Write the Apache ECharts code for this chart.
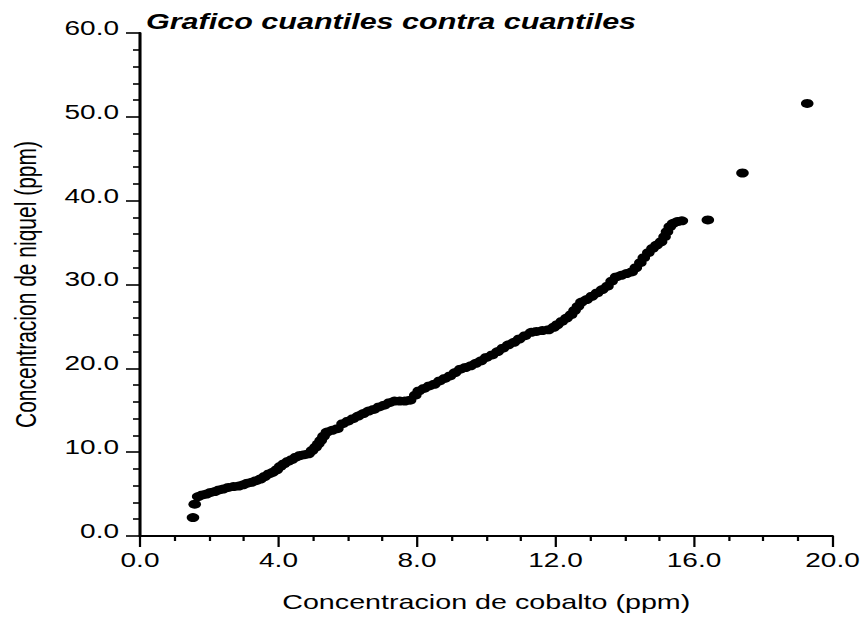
<!DOCTYPE html>
<html>
<head>
<meta charset="utf-8">
<script src="https://cdn.jsdelivr.net/npm/echarts@6/dist/echarts.min.js"></script>
<style>
  html, body { margin: 0; padding: 0; background: #fff; overflow: hidden; }
  #wrap { position: absolute; left: 0; top: 0; height: 617px; transform-origin: 0 0; }
</style>
</head>
<body>
<div id="wrap"></div>
<script>
// Sorted quantiles of cobalt (x) and nickel (y), in ppm
const cobalto = [
  1.53, 1.58, 1.68, 1.80, 1.92, 2.04, 2.16, 2.28, 2.40, 2.55,
  2.70, 2.85, 2.98, 3.10, 3.22, 3.35, 3.48, 3.60, 3.72, 3.83,
  3.95, 4.05, 4.15, 4.27, 4.38, 4.50, 4.62, 4.75, 4.87, 4.97,
  5.07, 5.15, 5.22, 5.30, 5.40, 5.55, 5.70, 5.85, 6.00, 6.15,
  6.30, 6.45, 6.60, 6.75, 6.90, 7.05, 7.20, 7.35, 7.50, 7.65,
  7.80, 7.95, 8.05, 8.20, 8.35, 8.50, 8.65, 8.80, 8.95, 9.10,
  9.25, 9.40, 9.55, 9.70, 9.85, 10.00, 10.17, 10.33, 10.48, 10.64,
  10.80, 10.95, 11.12, 11.30, 11.45, 11.62, 11.80, 11.95, 12.05, 12.18,
  12.32, 12.45, 12.55, 12.65, 12.75, 12.90, 13.05, 13.20, 13.35, 13.50,
  13.62, 13.75, 13.90, 14.05, 14.20, 14.32, 14.45, 14.55, 14.68, 14.80,
  14.92, 15.05, 15.15, 15.22, 15.30, 15.40, 15.52, 15.65, 16.40, 17.40,
  19.27
];
const niquel = [
  2.2, 3.8, 4.7, 4.9, 5.0, 5.2, 5.3, 5.5, 5.6, 5.8,
  5.9, 5.95, 6.1, 6.3, 6.4, 6.6, 6.8, 7.1, 7.4, 7.6,
  7.9, 8.3, 8.6, 8.9, 9.1, 9.4, 9.6, 9.7, 9.8, 10.2,
  10.6, 11.0, 11.4, 11.9, 12.4, 12.6, 12.8, 13.4, 13.7, 14.0,
  14.3, 14.6, 14.9, 15.1, 15.4, 15.6, 15.9, 16.1, 16.1, 16.1,
  16.2, 16.8, 17.3, 17.6, 17.9, 18.1, 18.5, 18.8, 19.1, 19.5,
  19.9, 20.1, 20.3, 20.6, 20.9, 21.3, 21.6, 22.0, 22.4, 22.8,
  23.1, 23.5, 23.9, 24.3, 24.4, 24.5, 24.6, 24.9, 25.2, 25.6,
  26.0, 26.4, 26.9, 27.4, 27.9, 28.2, 28.6, 29.0, 29.4, 29.8,
  30.4, 30.9, 31.1, 31.3, 31.5, 32.0, 32.6, 33.2, 33.8, 34.3,
  34.7, 35.1, 35.7, 36.3, 36.9, 37.3, 37.5, 37.6, 37.7, 43.3,
  51.6
];
const xTicks = { min: 0, max: 20, step: 4 };
const yTicks = { min: 0, max: 60, step: 10 };

const titleText = 'Grafico cuantiles contra cuantiles';
const xName = 'Concentracion de cobalto (ppm)';
const yName = 'Concentracion de niquel (ppm)';

// The figure is drawn with wide, horizontally stretched lettering and dots:
// render narrower, then stretch the whole drawing horizontally.
const S = 1.4;
const W = 864, H = 617;
const wrap = document.getElementById('wrap');
wrap.style.width = (W / S) + 'px';
wrap.style.transform = 'scaleX(' + S + ')';

const FONT = 'Liberation Sans, Arial, Helvetica, sans-serif';
const ink = '#000';

const points = cobalto.map((c, i) => [c, niquel[i]]);

const chart = echarts.init(wrap, null, { renderer: 'svg', width: W / S, height: H });
chart.setOption({
  backgroundColor: '#fff',
  animation: false,
  title: {
    text: titleText,
    left: 139 / S,
    top: 6,
    textStyle: {
      fontFamily: FONT, fontSize: 21.8, fontStyle: 'italic', fontWeight: 'bold', color: ink
    }
  },
  grid: {
    left: 139.5 / S,
    right: (W - 832.5) / S,
    top: 33,
    bottom: H - 537
  },
  xAxis: {
    type: 'value',
    min: xTicks.min, max: xTicks.max, interval: xTicks.step,
    name: xName,
    nameLocation: 'middle',
    nameGap: 55,
    nameTextStyle: { fontFamily: FONT, fontSize: 20.5, color: ink },
    axisLine: { show: true, lineStyle: { color: ink, width: 2 } },
    axisTick: { show: true, inside: false, length: 11, lineStyle: { color: ink, width: 1.6 } },
    minorTick: { show: true, splitNumber: 4, length: 5, lineStyle: { color: ink, width: 1.6 } },
    splitLine: { show: false },
    minorSplitLine: { show: false },
    axisLabel: {
      margin: 14,
      fontFamily: FONT, fontSize: 20, color: ink,
      formatter: v => v.toFixed(1)
    }
  },
  yAxis: {
    type: 'value',
    min: yTicks.min, max: yTicks.max, interval: yTicks.step,
    name: yName,
    nameLocation: 'middle',
    nameGap: 71,
    nameRotate: 90,
    nameTextStyle: { fontFamily: FONT, fontSize: 21, color: ink },
    axisLine: { show: true, lineStyle: { color: ink, width: 2.2 } },
    axisTick: { show: true, inside: false, length: 10, lineStyle: { color: ink, width: 1.6 } },
    minorTick: { show: true, splitNumber: 5, length: 5, lineStyle: { color: ink, width: 1.6 } },
    splitLine: { show: false },
    minorSplitLine: { show: false },
    axisLabel: {
      margin: 15,
      verticalAlign: 'bottom',
      lineHeight: 10,
      fontFamily: FONT, fontSize: 20, color: ink,
      formatter: v => v.toFixed(1)
    }
  },
  series: [{
    type: 'scatter',
    data: points,
    symbol: 'circle',
    symbolSize: 9,
    itemStyle: { color: ink, opacity: 1 },
    silent: true
  }]
});
</script>
</body>
</html>
